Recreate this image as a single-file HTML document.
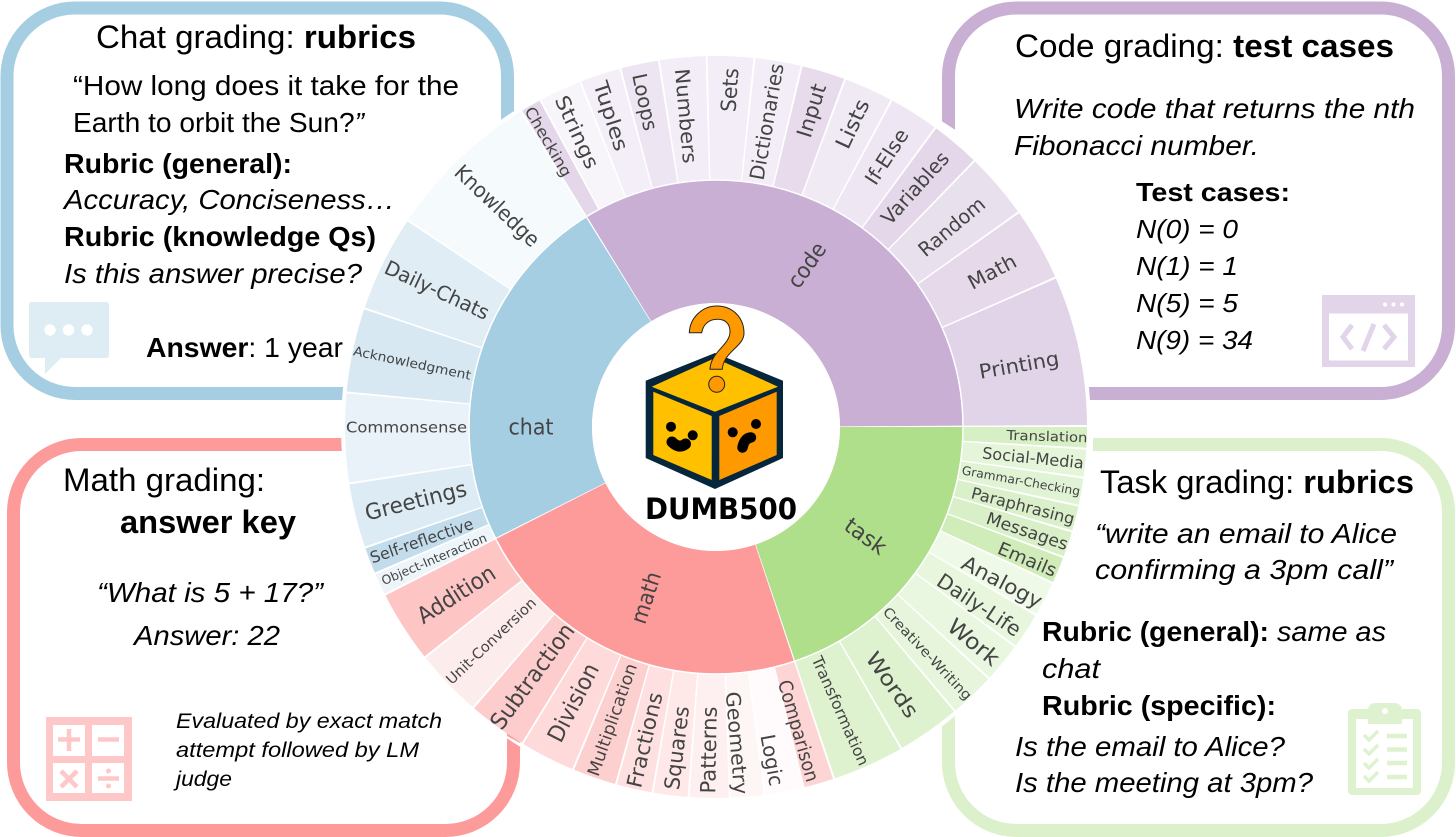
<!DOCTYPE html>
<html><head><meta charset="utf-8"><style>
html,body{margin:0;padding:0;background:#fff}
svg{display:block}
.l{font-family:"DejaVu Sans",sans-serif;fill:#444;text-anchor:middle;dominant-baseline:central}
.t{font-family:"Liberation Sans",sans-serif;fill:#000}
.i{font-style:italic}.b{font-weight:bold}
.w{fill:none;stroke-width:124}
.g{fill:none;stroke-width:123}
</style></head><body>
<svg width="1456" height="837" viewBox="0 0 1456 837" xmlns="http://www.w3.org/2000/svg">
<!-- boxes -->
<rect x="7" y="8" width="500.5" height="385.5" rx="68" fill="#fff" stroke="#a6cee3" stroke-width="13"/>
<rect x="948.5" y="8" width="500" height="385.5" rx="68" fill="#fff" stroke="#c9afd4" stroke-width="13"/>
<rect x="13.5" y="444.5" width="500" height="386" rx="68" fill="#fff" stroke="#fd9a9a" stroke-width="13"/>
<rect x="948.5" y="444.5" width="500" height="386" rx="68" fill="#fff" stroke="#dcf1cb" stroke-width="13"/>
<circle cx="716" cy="427" r="375" fill="#fff"/>
<rect x="1083" y="430" width="10" height="25" fill="#fff"/>
<polygon points="940,120 956,130.4 956,150 940,150" fill="#fff"/>
<polygon points="507,728 520,728 520,743 507,736" fill="#fd9a9a"/>
<!-- sunburst -->
<g transform="translate(716,427)">
<g class="rings">
<circle class="g" r="185.5" stroke="#c9afd4" pathLength="360" stroke-dasharray="121.2 360" transform="rotate(-121.5)"/>
<circle class="g" r="185.5" stroke="#b0df8b" pathLength="360" stroke-dasharray="71.3 360" transform="rotate(0)"/>
<circle class="g" r="185.5" stroke="#fd9a9a" pathLength="360" stroke-dasharray="81.4 360" transform="rotate(71.6)"/>
<circle class="g" r="185.5" stroke="#a6cee3" pathLength="360" stroke-dasharray="84.9 360" transform="rotate(153.3)"/>
</g>
<g>
<circle class="w" r="309" stroke="#e3d7e9" pathLength="360" stroke-dasharray="3.1 360" transform="rotate(-121.5)"/>
<circle class="w" r="309" stroke="#f8f5fa" pathLength="360" stroke-dasharray="6.5 360" transform="rotate(-118.1)"/>
<circle class="w" r="309" stroke="#f3eef7" pathLength="360" stroke-dasharray="6.2 360" transform="rotate(-111.3)"/>
<circle class="w" r="309" stroke="#eee5f2" pathLength="360" stroke-dasharray="5.8 360" transform="rotate(-104.8)"/>
<circle class="w" r="309" stroke="#f2edf6" pathLength="360" stroke-dasharray="7.1 360" transform="rotate(-98.7)"/>
<circle class="w" r="309" stroke="#f2edf6" pathLength="360" stroke-dasharray="7.1 360" transform="rotate(-91.3)"/>
<circle class="w" r="309" stroke="#f2edf6" pathLength="360" stroke-dasharray="7.1 360" transform="rotate(-83.9)"/>
<circle class="w" r="309" stroke="#e8dcec" pathLength="360" stroke-dasharray="6.7 360" transform="rotate(-76.5)"/>
<circle class="w" r="309" stroke="#f0eaf4" pathLength="360" stroke-dasharray="7.6 360" transform="rotate(-69.5)"/>
<circle class="w" r="309" stroke="#eee6f3" pathLength="360" stroke-dasharray="7.7 360" transform="rotate(-61.6)"/>
<circle class="w" r="309" stroke="#e3d7e9" pathLength="360" stroke-dasharray="7.6 360" transform="rotate(-53.6)"/>
<circle class="w" r="309" stroke="#e9e0ee" pathLength="360" stroke-dasharray="10.2 360" transform="rotate(-45.7)"/>
<circle class="w" r="309" stroke="#e6d9ea" pathLength="360" stroke-dasharray="11.3 360" transform="rotate(-35.2)"/>
<circle class="w" r="309" stroke="#e1d4e8" pathLength="360" stroke-dasharray="23.3 360" transform="rotate(-23.6)"/>

<circle class="w" r="309" stroke="#d6efc4" pathLength="360" stroke-dasharray="3.2 360" transform="rotate(0)"/>
<circle class="w" r="309" stroke="#e5f5da" pathLength="360" stroke-dasharray="4.2 360" transform="rotate(3.5)"/>
<circle class="w" r="309" stroke="#e1f3d5" pathLength="360" stroke-dasharray="4.1 360" transform="rotate(8)"/>
<circle class="w" r="309" stroke="#daf0ca" pathLength="360" stroke-dasharray="3.8 360" transform="rotate(12.4)"/>
<circle class="w" r="309" stroke="#d8efc8" pathLength="360" stroke-dasharray="3.9 360" transform="rotate(16.5)"/>
<circle class="w" r="309" stroke="#d0ecb9" pathLength="360" stroke-dasharray="4 360" transform="rotate(20.7)"/>
<circle class="w" r="309" stroke="#eff9e8" pathLength="360" stroke-dasharray="5.3 360" transform="rotate(25)"/>
<circle class="w" r="309" stroke="#e7f6dc" pathLength="360" stroke-dasharray="5.5 360" transform="rotate(30.6)"/>
<circle class="w" r="309" stroke="#e9f6e0" pathLength="360" stroke-dasharray="6.1 360" transform="rotate(36.4)"/>
<circle class="w" r="309" stroke="#e6f5db" pathLength="360" stroke-dasharray="7 360" transform="rotate(42.8)"/>
<circle class="w" r="309" stroke="#dff2d0" pathLength="360" stroke-dasharray="9.8 360" transform="rotate(50.1)"/>
<circle class="w" r="309" stroke="#dff2d0" pathLength="360" stroke-dasharray="11.1 360" transform="rotate(60.2)"/>

<circle class="w" r="309" stroke="#fed5d5" pathLength="360" stroke-dasharray="4.6 360" transform="rotate(71.6)"/>
<circle class="w" r="309" stroke="#fffafb" pathLength="360" stroke-dasharray="5.8 360" transform="rotate(76.5)"/>
<circle class="w" r="309" stroke="#fef5f5" pathLength="360" stroke-dasharray="5.1 360" transform="rotate(82.6)"/>
<circle class="w" r="309" stroke="#fef0f0" pathLength="360" stroke-dasharray="6.1 360" transform="rotate(88)"/>
<circle class="w" r="309" stroke="#fee8e8" pathLength="360" stroke-dasharray="5.3 360" transform="rotate(94.4)"/>
<circle class="w" r="309" stroke="#fee0e0" pathLength="360" stroke-dasharray="5.5 360" transform="rotate(100)"/>
<circle class="w" r="309" stroke="#fdd0d0" pathLength="360" stroke-dasharray="6.7 360" transform="rotate(105.8)"/>
<circle class="w" r="309" stroke="#fedada" pathLength="360" stroke-dasharray="8.5 360" transform="rotate(112.8)"/>
<circle class="w" r="309" stroke="#fdcccc" pathLength="360" stroke-dasharray="9.1 360" transform="rotate(121.6)"/>
<circle class="w" r="309" stroke="#fdecec" pathLength="360" stroke-dasharray="10.5 360" transform="rotate(131)"/>
<circle class="w" r="309" stroke="#fec5c5" pathLength="360" stroke-dasharray="11.2 360" transform="rotate(141.8)"/>

<circle class="w" r="309" stroke="#edf5fa" pathLength="360" stroke-dasharray="3.3 360" transform="rotate(153.3)"/>
<circle class="w" r="309" stroke="#c3dcec" pathLength="360" stroke-dasharray="4 360" transform="rotate(156.9)"/>
<circle class="w" r="309" stroke="#dcebf4" pathLength="360" stroke-dasharray="9.9 360" transform="rotate(161.2)"/>
<circle class="w" r="309" stroke="#e8f2f8" pathLength="360" stroke-dasharray="13.8 360" transform="rotate(171.4)"/>
<circle class="w" r="309" stroke="#d7e8f2" pathLength="360" stroke-dasharray="13 360" transform="rotate(185.5)"/>
<circle class="w" r="309" stroke="#e0edf5" pathLength="360" stroke-dasharray="14.9 360" transform="rotate(198.8)"/>
<circle class="w" r="309" stroke="#f5fafd" pathLength="360" stroke-dasharray="24.2 360" transform="rotate(214)"/>
</g>
<circle r="247" fill="none" stroke="#fff" stroke-width="1.5"/>
<circle r="124" fill="#fff"/>
</g>
<!-- ring labels -->
<g>
<text class="l" font-size="22" textLength="45" lengthAdjust="spacingAndGlyphs" transform="translate(531,428)">chat</text>
<text class="l" font-size="22" textLength="50" lengthAdjust="spacingAndGlyphs" transform="translate(807.7,265.7) rotate(-55)">code</text>
<text class="l" font-size="22" textLength="53" lengthAdjust="spacingAndGlyphs" transform="translate(647,598) rotate(-72)">math</text>
<text class="l" font-size="22" textLength="46" lengthAdjust="spacingAndGlyphs" transform="translate(865,537) rotate(36)">task</text>

<text class="l" font-size="21" textLength="108" lengthAdjust="spacingAndGlyphs" transform="translate(497,206) rotate(43.5)">Knowledge</text>
<text class="l" font-size="20" textLength="113" lengthAdjust="spacingAndGlyphs" transform="translate(437,290) rotate(25)">Daily-Chats</text>
<text class="l" font-size="13" textLength="120" lengthAdjust="spacingAndGlyphs" transform="translate(412,364) rotate(12)">Acknowledgment</text>
<text class="l" font-size="15.5" textLength="121" lengthAdjust="spacingAndGlyphs" transform="translate(406.5,427.6)">Commonsense</text>
<text class="l" font-size="22" textLength="104" lengthAdjust="spacingAndGlyphs" transform="translate(416,501.7) rotate(-14)">Greetings</text>
<text class="l" font-size="16" textLength="108" lengthAdjust="spacingAndGlyphs" transform="translate(421.7,540.7) rotate(-19)">Self-reflective</text>
<text class="l" font-size="12.5" textLength="113" lengthAdjust="spacingAndGlyphs" transform="translate(434,559) rotate(-23)">Object-Interaction</text>

<text class="l" font-size="23" textLength="88" lengthAdjust="spacingAndGlyphs" transform="translate(456.7,595) rotate(-32.5)">Addition</text>
<text class="l" font-size="14.5" textLength="118" lengthAdjust="spacingAndGlyphs" transform="translate(491.7,641.7) rotate(-43.6)">Unit-Conversion</text>
<text class="l" font-size="23" textLength="125" lengthAdjust="spacingAndGlyphs" transform="translate(533,676.7) rotate(-53.7)">Subtraction</text>
<text class="l" font-size="23" textLength="85" lengthAdjust="spacingAndGlyphs" transform="translate(574,703) rotate(-62.8)">Division</text>
<text class="l" font-size="17" textLength="118" lengthAdjust="spacingAndGlyphs" transform="translate(613,720) rotate(-70.7)">Multiplication</text>
<text class="l" font-size="21" textLength="97" lengthAdjust="spacingAndGlyphs" transform="translate(645,740) rotate(-77)">Fractions</text>
<text class="l" font-size="21" textLength="84" lengthAdjust="spacingAndGlyphs" transform="translate(677,748) rotate(-83)">Squares</text>
<text class="l" font-size="21" textLength="87" lengthAdjust="spacingAndGlyphs" transform="translate(709,750) rotate(-89)">Patterns</text>
<text class="l" font-size="20" textLength="103" lengthAdjust="spacingAndGlyphs" transform="translate(737,743) rotate(85.3)">Geometry</text>
<text class="l" font-size="20" textLength="52" lengthAdjust="spacingAndGlyphs" transform="translate(772,760) rotate(79.5)">Logic</text>
<text class="l" font-size="19" textLength="105" lengthAdjust="spacingAndGlyphs" transform="translate(798,731) rotate(74)">Comparison</text>

<text class="l" font-size="15.5" textLength="118" lengthAdjust="spacingAndGlyphs" transform="translate(840,711) rotate(65.9)">Transformation</text>
<text class="l" font-size="21" textLength="75" lengthAdjust="spacingAndGlyphs" transform="translate(892,685) rotate(55)">Words</text>
<text class="l" font-size="13.5" textLength="122" lengthAdjust="spacingAndGlyphs" transform="translate(927,654) rotate(46.5)">Creative-Writing</text>
<text class="l" font-size="22" textLength="60" lengthAdjust="spacingAndGlyphs" transform="translate(973,643) rotate(39.6)">Work</text>
<text class="l" font-size="20.5" textLength="96" lengthAdjust="spacingAndGlyphs" transform="translate(979,605) rotate(33.5)">Daily-Life</text>
<text class="l" font-size="20.5" textLength="88" lengthAdjust="spacingAndGlyphs" transform="translate(1002,582) rotate(27.8)">Analogy</text>
<text class="l" font-size="18" textLength="62" lengthAdjust="spacingAndGlyphs" transform="translate(1027,560) rotate(22.9)">Emails</text>
<text class="l" font-size="17" textLength="85" lengthAdjust="spacingAndGlyphs" transform="translate(1027,532) rotate(18.6)">Messages</text>
<text class="l" font-size="16" textLength="106" lengthAdjust="spacingAndGlyphs" transform="translate(1023,506) rotate(14.5)">Paraphrasing</text>
<text class="l" font-size="12" textLength="120" lengthAdjust="spacingAndGlyphs" transform="translate(1021,481) rotate(10.2)">Grammar-Checking</text>
<text class="l" font-size="16" textLength="102" lengthAdjust="spacingAndGlyphs" transform="translate(1033,458) rotate(5.75)">Social-Media</text>
<text class="l" font-size="13.5" textLength="81" lengthAdjust="spacingAndGlyphs" transform="translate(1047,437) rotate(1.75)">Translation</text>

<text class="l" font-size="15.5" textLength="78" lengthAdjust="spacingAndGlyphs" transform="translate(548,142) rotate(60)">Checking</text>
<text class="l" font-size="20" textLength="78" lengthAdjust="spacingAndGlyphs" transform="translate(577,132) rotate(65.3)">Strings</text>
<text class="l" font-size="20" textLength="72" lengthAdjust="spacingAndGlyphs" transform="translate(611,116) rotate(72)">Tuples</text>
<text class="l" font-size="20" textLength="58" lengthAdjust="spacingAndGlyphs" transform="translate(645,102) rotate(78)">Loops</text>
<text class="l" font-size="20" textLength="95" lengthAdjust="spacingAndGlyphs" transform="translate(686,116) rotate(85)">Numbers</text>
<text class="l" font-size="21" textLength="44" lengthAdjust="spacingAndGlyphs" transform="translate(730,90) rotate(-86)">Sets</text>
<text class="l" font-size="20" textLength="118" lengthAdjust="spacingAndGlyphs" transform="translate(766.7,121.7) rotate(-80)">Dictionaries</text>
<text class="l" font-size="21" textLength="55" lengthAdjust="spacingAndGlyphs" transform="translate(811.7,110.7) rotate(-73)">Input</text>
<text class="l" font-size="21" textLength="52" lengthAdjust="spacingAndGlyphs" transform="translate(852.7,124) rotate(-65)">Lists</text>
<text class="l" font-size="20" textLength="62" lengthAdjust="spacingAndGlyphs" transform="translate(886.7,156.7) rotate(-57)">If-Else</text>
<text class="l" font-size="20" textLength="90" lengthAdjust="spacingAndGlyphs" transform="translate(915,188) rotate(-48)">Variables</text>
<text class="l" font-size="20" textLength="80" lengthAdjust="spacingAndGlyphs" transform="translate(951.7,226.7) rotate(-40)">Random</text>
<text class="l" font-size="20" textLength="52" lengthAdjust="spacingAndGlyphs" transform="translate(992,271.7) rotate(-28)">Math</text>
<text class="l" font-size="20" textLength="81" lengthAdjust="spacingAndGlyphs" transform="translate(1019,365) rotate(-10)">Printing</text>
</g>
<!-- logo -->
<polygon points="715,353 783,380.7 783,458 715,489 645.7,458 645.7,380.7" fill="#05263b"/>
<polygon points="651.7,386.7 715,358 778,386.7 715,411.7" fill="#ffc000"/>
<polygon points="653.3,391.7 711.7,416 711.7,480 653.3,455" fill="#ffc000"/>
<polygon points="719.3,416 776.7,391.7 776.7,455 719.3,480" fill="#ff9900"/>
<circle cx="671" cy="426.7" r="5" fill="#000"/><circle cx="692.7" cy="435.3" r="5" fill="#000"/>
<path d="M672 442 Q679 449 685.5 444" fill="none" stroke="#000" stroke-width="11" stroke-linecap="round"/>
<circle cx="732.7" cy="432.3" r="5" fill="#000"/><circle cx="756" cy="424" r="5" fill="#000"/>
<path d="M742.5 447.5 Q744.5 438 751 437.5" fill="none" stroke="#000" stroke-width="10.500" stroke-linecap="round"/>
<path d="M689.3 332.7 C690 316.7 703.3 306 716.7 306 C733.3 306 744 318.3 744 333.3 C744 346.7 723.3 351.7 722.3 369.3 L710 369.3 C710.7 351.7 730 345 730 331.7 C730 323.3 725 319.3 717.3 319.3 C710 319.3 703.3 323.3 701.7 332.7 Z" fill="#ff9900" stroke="#222" stroke-width="1"/>
<circle cx="716.7" cy="384.3" r="8" fill="#ff9900" stroke="#222" stroke-width="1"/>
<text x="645" y="519" font-family="'DejaVu Sans',sans-serif" font-weight="bold" font-size="29" textLength="152" lengthAdjust="spacingAndGlyphs" fill="#000">DUMB500</text>
<!-- chat text -->
<g font-size="28">
<text class="t" x="96" y="48" font-size="32" textLength="320" lengthAdjust="spacingAndGlyphs">Chat grading: <tspan class="b">rubrics</tspan></text>
<text class="t" x="73" y="95" textLength="386" lengthAdjust="spacingAndGlyphs">“How long does it take for the</text>
<text class="t" x="73" y="132" textLength="291" lengthAdjust="spacingAndGlyphs">Earth to orbit the Sun?<tspan class="i">”</tspan></text>
<text class="t b" x="64" y="173" textLength="228" lengthAdjust="spacingAndGlyphs">Rubric (general):</text>
<text class="t i" x="64" y="209" textLength="331" lengthAdjust="spacingAndGlyphs">Accuracy, Conciseness…</text>
<text class="t b" x="64" y="246" textLength="312" lengthAdjust="spacingAndGlyphs">Rubric (knowledge Qs)</text>
<text class="t i" x="64" y="283" textLength="298" lengthAdjust="spacingAndGlyphs">Is this answer precise?</text>
<text class="t" x="146" y="357" textLength="197" lengthAdjust="spacingAndGlyphs"><tspan class="b">Answer</tspan>: 1 year</text>
<!-- code text -->
<text class="t" x="1015" y="57" font-size="32" textLength="379" lengthAdjust="spacingAndGlyphs">Code grading: <tspan class="b">test cases</tspan></text>
<text class="t i" x="1014" y="118" textLength="401" lengthAdjust="spacingAndGlyphs">Write code that returns the nth</text>
<text class="t i" x="1014" y="155" textLength="245" lengthAdjust="spacingAndGlyphs">Fibonacci number.</text>
<text class="t b" x="1136" y="201" font-size="26" textLength="154" lengthAdjust="spacingAndGlyphs">Test cases:</text>
<text class="t i" x="1136" y="238" font-size="26" textLength="102" lengthAdjust="spacingAndGlyphs">N(0) = 0</text>
<text class="t i" x="1136" y="275" font-size="26" textLength="102" lengthAdjust="spacingAndGlyphs">N(1) = 1</text>
<text class="t i" x="1136" y="312" font-size="26" textLength="102" lengthAdjust="spacingAndGlyphs">N(5) = 5</text>
<text class="t i" x="1136" y="349" font-size="26" textLength="117" lengthAdjust="spacingAndGlyphs">N(9) = 34</text>
<!-- math text -->
<text class="t" x="63" y="491" font-size="32" textLength="202" lengthAdjust="spacingAndGlyphs">Math grading:</text>
<text class="t b" x="120" y="533" font-size="32" textLength="176" lengthAdjust="spacingAndGlyphs">answer key</text>
<text class="t i" x="97" y="602" textLength="226" lengthAdjust="spacingAndGlyphs">“What is 5 + 17?”</text>
<text class="t i" x="134" y="645" textLength="146" lengthAdjust="spacingAndGlyphs">Answer: 22</text>
<text class="t i" x="176" y="728" font-size="21" textLength="266" lengthAdjust="spacingAndGlyphs">Evaluated by exact match</text>
<text class="t i" x="176" y="757" font-size="21" textLength="243" lengthAdjust="spacingAndGlyphs">attempt followed by LM</text>
<text class="t i" x="176" y="786" font-size="21" textLength="56" lengthAdjust="spacingAndGlyphs">judge</text>
<!-- task text -->
<text class="t" x="1100" y="493" font-size="32" textLength="314" lengthAdjust="spacingAndGlyphs">Task grading: <tspan class="b">rubrics</tspan></text>
<text class="t i" x="1095" y="543" textLength="302" lengthAdjust="spacingAndGlyphs">“write an email to Alice</text>
<text class="t i" x="1095" y="579" textLength="298" lengthAdjust="spacingAndGlyphs">confirming a 3pm call”</text>
<text class="t b" x="1042" y="641" textLength="227" lengthAdjust="spacingAndGlyphs">Rubric (general):</text>
<text class="t i" x="1277" y="641" textLength="109" lengthAdjust="spacingAndGlyphs">same as</text>
<text class="t i" x="1042" y="678" textLength="58" lengthAdjust="spacingAndGlyphs">chat</text>
<text class="t b" x="1042" y="715" textLength="234" lengthAdjust="spacingAndGlyphs">Rubric (specific):</text>
<text class="t i" x="1015" y="756" textLength="270" lengthAdjust="spacingAndGlyphs">Is the email to Alice?</text>
<text class="t i" x="1015" y="792" textLength="298" lengthAdjust="spacingAndGlyphs">Is the meeting at 3pm?</text>
</g>
<!-- chat icon -->
<path d="M32 302 H106 Q109 302 109 305 V355 Q109 358 106 358 H61 L45 374 V358 H32 Q29 358 29 355 V305 Q29 302 32 302 Z" fill="#deecf4"/>
<circle cx="50" cy="330" r="5.7" fill="#fff"/><circle cx="68.5" cy="330" r="5.7" fill="#fff"/><circle cx="87" cy="330" r="5.7" fill="#fff"/>
<!-- code icon -->
<rect x="1322" y="295" width="93" height="72" fill="#e2d5e9"/>
<rect x="1329" y="313.500" width="79" height="47" fill="#fff"/>
<circle cx="1385" cy="304.500" r="2" fill="#fff"/><circle cx="1393.500" cy="304.500" r="2" fill="#fff"/><circle cx="1402" cy="304.500" r="2" fill="#fff"/>
<path d="M1352 325 L1343 337 L1352 349 M1384 325 L1394 337 L1384 349" fill="none" stroke="#e2d5e9" stroke-width="5"/>
<path d="M1374 324 L1363 351" fill="none" stroke="#e2d5e9" stroke-width="5"/>
<!-- math icon -->
<rect x="46" y="717" width="86" height="84" fill="#fec8c8"/>
<rect x="53" y="725" width="32" height="31" fill="#fff"/><rect x="92" y="725" width="32" height="31" fill="#fff"/>
<rect x="53" y="763" width="32" height="30" fill="#fff"/><rect x="92" y="763" width="32" height="30" fill="#fff"/>
<path d="M58 739.500 H80 M69 729 V751 M98 739.500 H119 M61 771 L77 787 M77 771 L61 787 M98 778.500 H119" fill="none" stroke="#fec8c8" stroke-width="4.500"/>
<circle cx="108.500" cy="771" r="2.500" fill="#fec8c8"/><circle cx="108.500" cy="786" r="2.500" fill="#fec8c8"/>
<!-- task icon -->
<rect x="1348" y="709" width="73" height="86" rx="4" fill="#dff2d0"/>
<rect x="1356" y="719" width="57" height="69" fill="#fff"/>
<path d="M1368 724 V711 Q1368 703 1376 703 H1394 Q1402 703 1402 711 V724 Z" fill="#dff2d0"/>
<circle cx="1385" cy="711" r="3" fill="#fff"/>
<g fill="none" stroke="#dff2d0" stroke-width="3.500">
<path d="M1364 735 L1369 740 L1378 731 M1364 749 L1369 754 L1378 745 M1364 763 L1369 768 L1378 759 M1364 776 L1369 781 L1378 772"/>
<path stroke-width="4.500" d="M1387 736 H1407 M1387 749.500 H1407 M1387 763 H1407 M1387 777 H1407"/>
</g>
</svg>
</body></html>
